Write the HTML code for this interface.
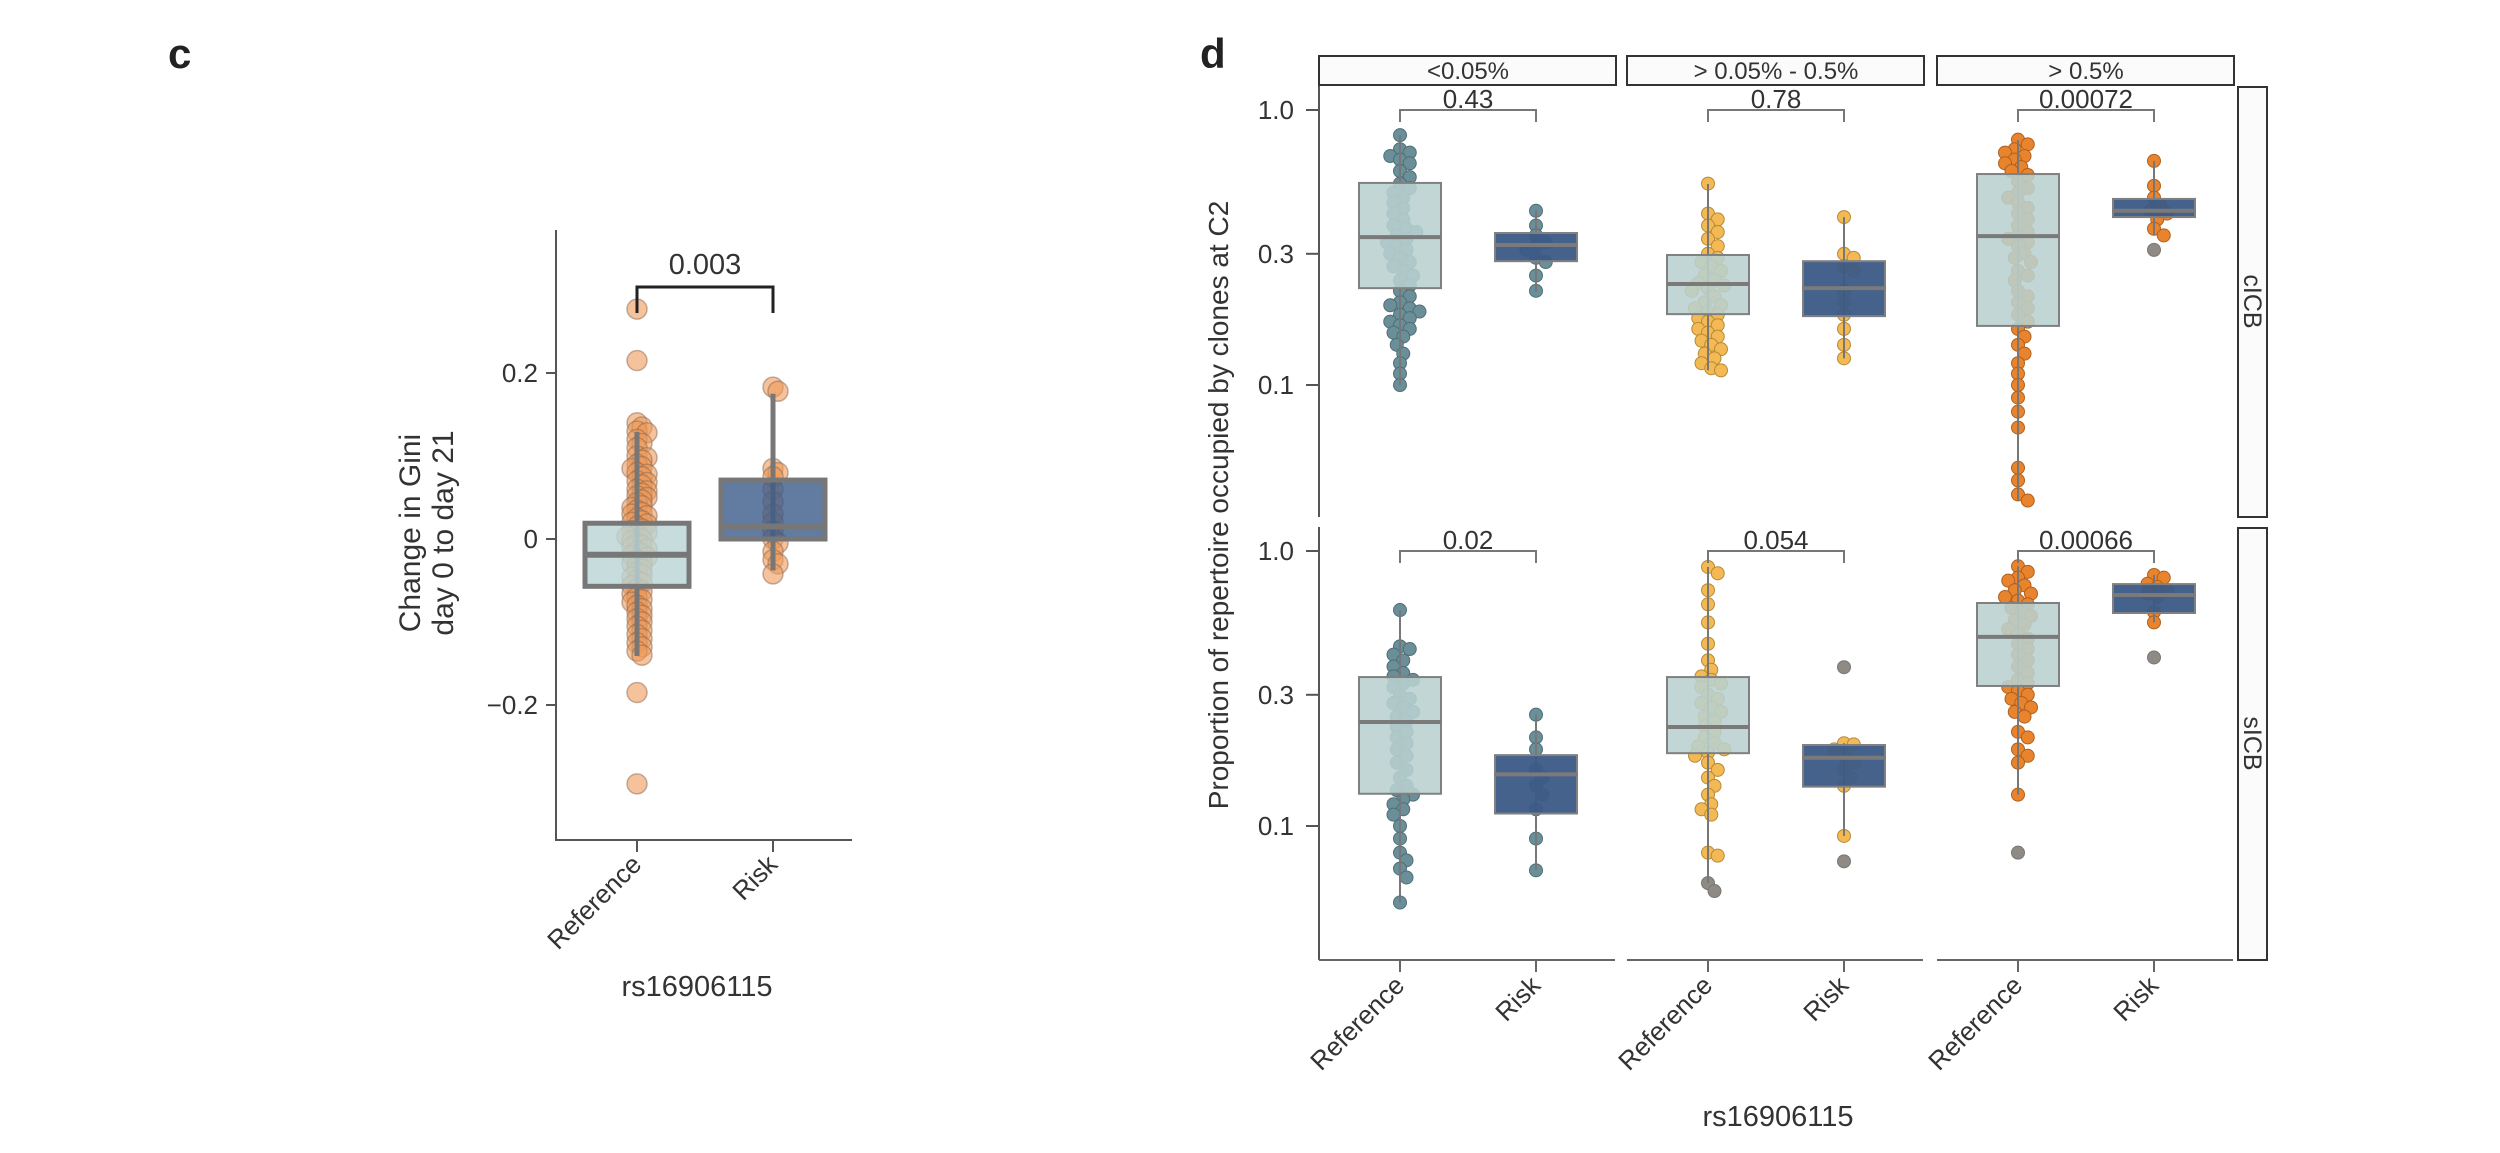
<!DOCTYPE html>
<html><head><meta charset="utf-8"><style>
html,body{margin:0;padding:0;background:#fff;}
svg{display:block;font-family:"Liberation Sans",sans-serif;}
</style></head><body>
<svg id="fig" width="2500" height="1153" viewBox="0 0 2500 1153" xmlns="http://www.w3.org/2000/svg">
<text x="168" y="68" font-size="42" font-weight="bold" fill="#222">c</text>
<text x="1200" y="68" font-size="42" font-weight="bold" fill="#222">d</text>
<g id="pc"></g>
<g id="pd"></g>
</svg>
<script>
// ---------- Panel c data ----------
const cCategories = ["Reference","Risk"];
const cYTicks = [0.2, 0, -0.2];
const cYTickLabels = ["0.2","0","\u22120.2"];
const cRefPoints = [0.277,0.215,0.14,0.135,0.13,0.128,0.12,0.115,0.11,0.1,0.098,0.095,0.09,0.087,0.085,0.08,0.078,0.075,0.07,0.068,0.065,0.06,0.058,0.055,0.052,0.05,0.047,0.044,0.04,0.038,0.035,0.032,0.03,0.028,0.025,0.022,0.02,0.018,0.015,0.012,0.01,0.008,0.005,0.003,0.0,-0.002,-0.005,-0.008,-0.01,-0.012,-0.015,-0.018,-0.02,-0.022,-0.025,-0.028,-0.03,-0.033,-0.036,-0.04,-0.043,-0.046,-0.05,-0.053,-0.056,-0.06,-0.063,-0.066,-0.07,-0.073,-0.076,-0.08,-0.084,-0.088,-0.092,-0.096,-0.1,-0.105,-0.11,-0.115,-0.12,-0.125,-0.13,-0.135,-0.14,-0.185,-0.295];
const cRiskPoints = [0.183,0.178,0.085,0.08,0.075,0.06,0.045,0.03,0.02,0.01,0.0,-0.005,-0.015,-0.025,-0.03,-0.042];
// box stats: [lowWhisker, q1, median, q3, highWhisker]
const cRefBox = [-0.141,-0.057,-0.019,0.019,0.129];
const cRiskBox = [-0.038,0.0,0.015,0.071,0.175];
const cPValue = "0.003";

// ---------- Panel d data ----------
const dCategories = ["Reference","Risk"];
const dFacets = ["<0.05%","> 0.05% - 0.5%","> 0.5%"];
const dRows = ["cICB","sICB"];
const dYTicks = [1.0,0.3,0.1];
const dYTickLabels = ["1.0","0.3","0.1"];
const dPValues = [["0.43","0.78","0.00072"],["0.02","0.054","0.00066"]];
const dBoxesTop = [
 [[0.10,0.225,0.345,0.543,0.81],[0.218,0.282,0.323,0.357,0.433]],
 [[0.113,0.181,0.233,0.297,0.538],[0.125,0.178,0.225,0.282,0.408]],
 [[0.038,0.164,0.348,0.585,0.778],[0.35,0.408,0.43,0.475,0.653]]
];
const dBoxesBottom = [
 [[0.0527,0.131,0.239,0.348,0.61],[0.069,0.111,0.154,0.181,0.254]],
 [[0.062,0.184,0.229,0.348,0.875],[0.092,0.139,0.177,0.197,0.2]],
 [[0.13,0.323,0.487,0.647,0.88],[0.55,0.595,0.692,0.758,0.818]]
];
const dPointsTop = [
 [[0.81,0.72,0.7,0.68,0.66,0.64,0.6,0.57,0.54,0.52,0.5,0.48,0.46,0.44,0.42,0.4,0.38,0.37,0.36,0.35,0.34,0.33,0.32,0.31,0.3,0.29,0.28,0.27,0.26,0.25,0.24,0.23,0.22,0.21,0.2,0.195,0.19,0.185,0.18,0.175,0.17,0.165,0.16,0.155,0.15,0.14,0.13,0.12,0.11,0.1],
  [0.43,0.38,0.35,0.33,0.32,0.31,0.29,0.28,0.25,0.22]],
 [[0.54,0.42,0.4,0.38,0.36,0.34,0.32,0.3,0.29,0.28,0.27,0.26,0.25,0.24,0.235,0.23,0.225,0.22,0.21,0.2,0.195,0.19,0.185,0.18,0.175,0.17,0.165,0.16,0.155,0.15,0.145,0.14,0.135,0.13,0.125,0.12,0.115,0.113],
  [0.408,0.3,0.29,0.27,0.26,0.22,0.2,0.18,0.16,0.14,0.125]],
 [[0.78,0.75,0.72,0.7,0.68,0.66,0.64,0.62,0.6,0.58,0.55,0.52,0.5,0.48,0.46,0.44,0.42,0.4,0.38,0.36,0.35,0.34,0.33,0.32,0.3,0.29,0.28,0.26,0.25,0.24,0.22,0.21,0.2,0.19,0.18,0.17,0.16,0.15,0.14,0.13,0.12,0.11,0.1,0.09,0.08,0.07,0.05,0.045,0.04,0.038],
  [0.653,0.53,0.48,0.45,0.43,0.42,0.4,0.37,0.35]]
];
const dGrayTop = [[[],[]],[[],[]],[[],[0.31]]];
const dPointsBottom = [
 [[0.61,0.45,0.44,0.42,0.4,0.38,0.36,0.35,0.34,0.33,0.32,0.3,0.29,0.28,0.27,0.26,0.25,0.24,0.23,0.22,0.21,0.2,0.19,0.18,0.17,0.16,0.15,0.14,0.135,0.13,0.125,0.12,0.115,0.11,0.1,0.09,0.08,0.075,0.07,0.065,0.0527],
  [0.254,0.21,0.19,0.16,0.15,0.14,0.13,0.115,0.09,0.069]],
 [[0.875,0.83,0.72,0.64,0.55,0.46,0.4,0.37,0.35,0.34,0.33,0.32,0.3,0.29,0.28,0.27,0.26,0.25,0.24,0.23,0.22,0.21,0.2,0.195,0.19,0.185,0.18,0.17,0.16,0.15,0.14,0.13,0.12,0.115,0.11,0.08,0.078],
  [0.2,0.198,0.19,0.18,0.17,0.16,0.15,0.14,0.092]],
 [[0.88,0.84,0.8,0.78,0.75,0.72,0.7,0.68,0.66,0.64,0.62,0.6,0.58,0.56,0.54,0.52,0.5,0.48,0.46,0.44,0.42,0.4,0.38,0.36,0.34,0.33,0.32,0.31,0.3,0.29,0.28,0.27,0.26,0.25,0.22,0.21,0.19,0.18,0.17,0.13],
  [0.818,0.8,0.76,0.74,0.72,0.7,0.68,0.6,0.55]]
];
const dGrayBottom = [[[],[]],[[0.062,0.058],[0.378,0.0744]],[[0.08],[0.41]]];

const NS="http://www.w3.org/2000/svg";
function mk(parent,tag,attrs,text){const e=document.createElementNS(NS,tag);for(const k in attrs)e.setAttribute(k,attrs[k]);if(text!==undefined)e.textContent=text;parent.appendChild(e);return e;}
function swarm(vals,yf,cx,r,sep){
  const pts=vals.map(v=>({v,y:yf(v)})).sort((a,b)=>a.y-b.y);const placed=[];
  pts.forEach(p=>{let best=0;for(let k=0;k<60;k++){const off=(k%2?1:-1)*Math.ceil(k/2)*r*0.5;let ok=true;for(const q of placed){const dx=cx+off-q.x,dy=p.y-q.y;if(dx*dx+dy*dy<(sep*r)*(sep*r)){ok=false;break;}}if(ok){best=off;break;}}p.x=cx+best;placed.push(p);});
  return pts;
}

// ---------- Draw panel c ----------
(function(){
  const g=document.getElementById('pc');
  const y=v=>539-v*830;
  const xs=[637,773];
  mk(g,'line',{x1:556,y1:230,x2:556,y2:840,stroke:'#555','stroke-width':2});
  mk(g,'line',{x1:555,y1:840,x2:852,y2:840,stroke:'#555','stroke-width':2});
  cYTicks.forEach((t,i)=>{
    const tk=mk(g,'line',{x1:546,y1:y(t),x2:556,y2:y(t),stroke:'#555','stroke-width':2});
    
    
    const tl=mk(g,'text',{x:538,y:y(t)+9,'font-size':26,'text-anchor':'end',fill:'#333'},cYTickLabels[i]);
    
    
  });
  cCategories.forEach((c,i)=>{
    mk(g,'line',{x1:xs[i],y1:840,x2:xs[i],y2:852,stroke:'#555','stroke-width':2});
    const t=mk(g,'text',{x:xs[i]+6,y:866,'font-size':26,'text-anchor':'end',fill:'#333',transform:`rotate(-45 ${xs[i]+6} 866)`},c);
    
    
  });
  const yl=mk(g,'text',{x:0,y:0,'font-size':30,'text-anchor':'middle',fill:'#333',transform:'translate(420,533) rotate(-90)'});
  
  
  mk(yl,'tspan',{x:0,dy:0},'Change in Gini');mk(yl,'tspan',{x:0,dy:33},'day 0 to day 21');
  const xt=mk(g,'text',{x:697,y:996,'font-size':29,'text-anchor':'middle',fill:'#333'},'rs16906115');
  
  
  [cRefPoints,cRiskPoints].forEach((arr,i)=>{
    swarm(arr,y,xs[i],10,0.55).forEach(p=>{
      const c=mk(g,'circle',{cx:p.x,cy:p.y,r:10,fill:'#ee9a58','fill-opacity':0.6,stroke:'#8a6a55','stroke-opacity':0.5,'stroke-width':1.5});
      
      
    });
  });
  [cRefBox,cRiskBox].forEach((b,i)=>{
    const w=104,x0=xs[i]-w/2;
    mk(g,'line',{x1:xs[i],y1:y(b[0]),x2:xs[i],y2:y(b[4]),stroke:'#777','stroke-width':5});
    const r=mk(g,'rect',{x:x0,y:y(b[3]),width:w,height:y(b[1])-y(b[3]),fill:i?'#3b5a88':'#b9d5d4','fill-opacity':0.8,stroke:'#777','stroke-width':5});
    
    
    mk(g,'line',{x1:x0,y1:y(b[2]),x2:x0+w,y2:y(b[2]),stroke:'#777','stroke-width':6});
  });
  mk(g,'path',{d:`M${xs[0]},313 V287 H${xs[1]} V313`,fill:'none',stroke:'#222','stroke-width':3,});
  mk(g,'text',{x:(xs[0]+xs[1])/2,y:274,'font-size':29,'text-anchor':'middle',fill:'#333',},cPValue);
})();

// ---------- Draw panel d ----------
(function(){
  const g=document.getElementById('pd');
  const panelX=[1319,1627,1937], panelW=298;
  const catOff=[81,217];
  const rowTop=[86,527], rowBot=[517,960], oneY=[110,551], dec=275;
  const yf=r=>v=>oneY[r]-Math.log10(v)*dec;
  const ptCol=['#6b8f98','#f2b955','#e8842e'];
  const ptStroke=['#4f6f77','#b98a35','#b0601e'];
  const boxesAll=[dBoxesTop,dBoxesBottom], ptsAll=[dPointsTop,dPointsBottom], grayAll=[dGrayTop,dGrayBottom];
  for(let r=0;r<2;r++){
    const y=yf(r);
    mk(g,'line',{x1:1319,y1:rowTop[r],x2:1319,y2:rowBot[r],stroke:'#555','stroke-width':2});
    dYTicks.forEach((t,i)=>{
      const tk=mk(g,'line',{x1:1306,y1:y(t),x2:1319,y2:y(t),stroke:'#555','stroke-width':2});
      
      
      const tl=mk(g,'text',{x:1294,y:y(t)+9,'font-size':26,'text-anchor':'end',fill:'#333'},dYTickLabels[i]);
      
      
    });
    const rs=mk(g,'rect',{x:2238,y:rowTop[r]+1,width:29,height:rowBot[r]-rowTop[r]-1,fill:'#fbfbfb',stroke:'#333','stroke-width':2});
    
    
    const cy=(rowTop[r]+rowBot[r])/2;
    const rl=mk(g,'text',{x:0,y:0,'font-size':25,'text-anchor':'middle',fill:'#333',transform:`translate(2244,${cy}) rotate(90)`},dRows[r]);
    
    
    for(let f=0;f<3;f++){
      const xs=catOff.map(o=>panelX[f]+o);
      ptsAll[r][f].forEach((arr,ci)=>{
        const all=arr.concat(grayAll[r][f][ci]);
        const sw=swarm(all,y,xs[ci],6.5,1.5);
        const grays=grayAll[r][f][ci].slice();
        sw.forEach(p=>{
          const gi=grays.indexOf(p.v);const isG=gi>=0; if(isG)grays.splice(gi,1);
          const c=mk(g,'circle',{cx:p.x,cy:p.y,r:6.5,fill:isG?'#8f8a84':ptCol[f],stroke:isG?'#777':ptStroke[f],'stroke-width':1});
          
          
        });
      });
      boxesAll[r][f].forEach((b,ci)=>{
        const w=82,x0=xs[ci]-w/2;
        mk(g,'line',{x1:xs[ci],y1:y(b[0]),x2:xs[ci],y2:y(b[4]),stroke:'#777','stroke-width':2});
        const rc=mk(g,'rect',{x:x0,y:y(b[3]),width:w,height:y(b[1])-y(b[3]),fill:ci?'#3b5a87':'#b8d0cf','fill-opacity':ci?0.95:0.88,stroke:'#808080','stroke-width':2});
        
        
        mk(g,'line',{x1:x0,y1:y(b[2]),x2:x0+w,y2:y(b[2]),stroke:'#7a7a7a','stroke-width':4});
      });
      const by=oneY[r];
      const br=mk(g,'path',{d:`M${xs[0]},${by+12} V${by} H${xs[1]} V${by+12}`,fill:'none',stroke:'#777','stroke-width':2});
      
      
      const pv=mk(g,'text',{x:(xs[0]+xs[1])/2,y:by-2,'font-size':26,'text-anchor':'middle',fill:'#333'},dPValues[r][f]);
      
      
      if(r===0){
        const st=mk(g,'rect',{x:panelX[f],y:56,width:panelW-1,height:29,fill:'#fbfbfb',stroke:'#333','stroke-width':2});
        
        
        const sl=mk(g,'text',{x:panelX[f]+panelW/2,y:79,'font-size':24,'text-anchor':'middle',fill:'#333'},dFacets[f]);
        
        
      } else {
        mk(g,'line',{x1:panelX[f],y1:960,x2:panelX[f]+panelW-2,y2:960,stroke:'#666','stroke-width':2});
        xs.forEach((x,ci)=>{
          mk(g,'line',{x1:x,y1:960,x2:x,y2:972,stroke:'#666','stroke-width':2});
          const t=mk(g,'text',{x:x+6,y:987,'font-size':26,'text-anchor':'end',fill:'#333',transform:`rotate(-45 ${x+6} 987)`},dCategories[ci]);
          
          
        });
      }
    }
  }
  const yt=mk(g,'text',{x:0,y:0,'font-size':28,'text-anchor':'middle',fill:'#333',transform:'translate(1228,505) rotate(-90)'},'Proportion of repertoire occupied by clones at C2');
  
  
  const xt=mk(g,'text',{x:1778,y:1126,'font-size':29,'text-anchor':'middle',fill:'#333'},'rs16906115');
  
  
})();
</script>
</body></html>
